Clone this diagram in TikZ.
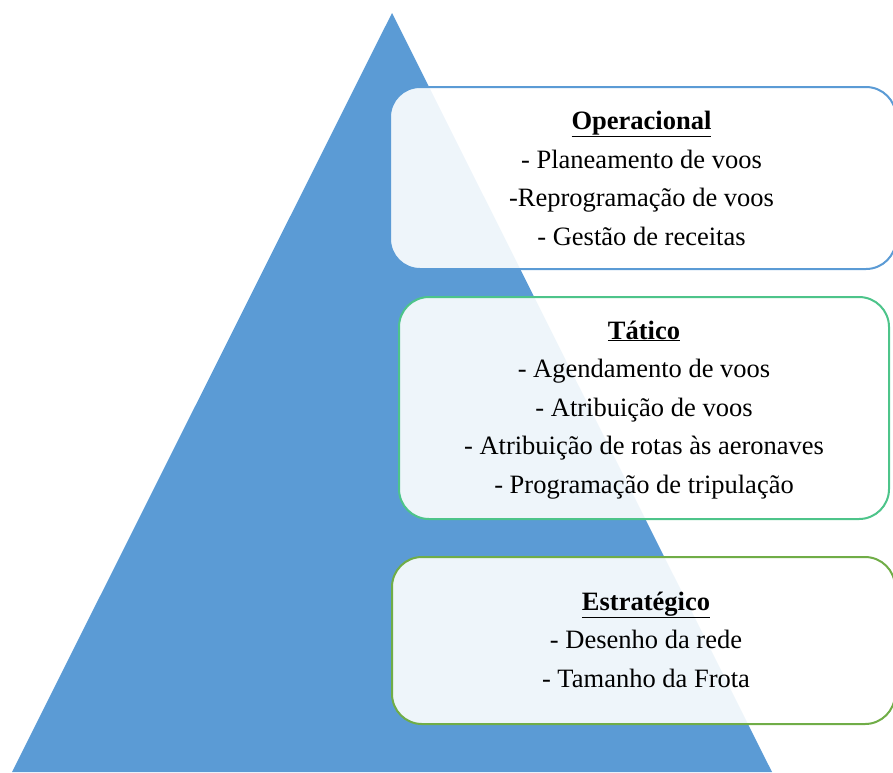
\documentclass[tikz,border=0pt]{standalone}
\usepackage{fontspec}
\setmainfont{Liberation Serif}
\definecolor{pyrblue}{RGB}{91,155,213}
\definecolor{opblue}{RGB}{91,155,213}
\definecolor{tatgreen}{RGB}{77,196,138}
\definecolor{estgreen}{RGB}{112,173,71}

\begin{document}
\begin{tikzpicture}[x=1pt,y=-1pt,
  level/.style={draw, line width=2pt, rounded corners=30pt, fill=white, fill opacity=0.9, inner sep=0pt},
  levtext/.style={align=center, anchor=base, inner sep=0pt, font=\fontsize{26.5}{38.5}\selectfont}]
\useasboundingbox (0,0) rectangle (893,772);
\fill[color=pyrblue] (392,13) -- (772,772) -- (12,772) -- cycle;

\node[level, draw=opblue, minimum width=506pt, minimum height=182pt] (oper) at (643,178) {};
\node[levtext] (opertxt) at (641.5,245) {\textbf{\underline{Operacional}}\\- Planeamento de voos\\-Reprogramação de voos\\- Gestão de receitas};

\node[level, draw=tatgreen, minimum width=490pt, minimum height=222pt] (tat) at (644,408) {};
\node[levtext] (tattxt) at (644,493) {\textbf{\underline{Tático}}\\- Agendamento de voos\\- Atribuição de voos\\- Atribuição de rotas às aeronaves\\- Programação de tripulação};

\node[level, draw=estgreen, minimum width=503pt, minimum height=167pt] (estr) at (643.5,640.5) {};
\node[levtext] (estrtxt) at (646,687) {\textbf{\underline{Estratégico}}\\- Desenho da rede\\- Tamanho da Frota};
\end{tikzpicture}
\end{document}
